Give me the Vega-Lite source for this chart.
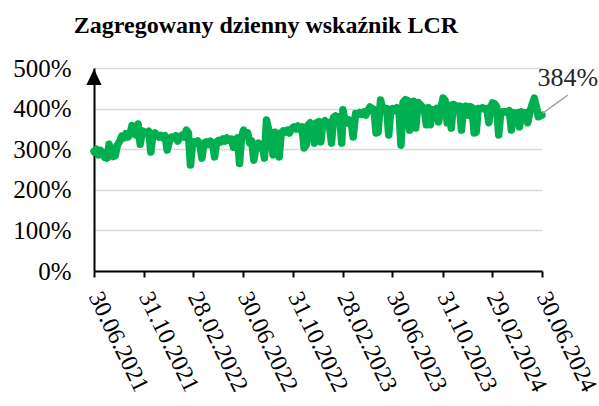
{
  "$schema": "https://vega.github.io/schema/vega-lite/v6.json",
  "width": 448,
  "height": 203,
  "autosize": {"type": "none"},
  "padding": {"left": 94, "top": 68, "right": 57, "bottom": 135},
  "background": "white",
  "config": {
    "font": "Liberation Serif",
    "view": {"stroke": null},
    "style": {"guide-label": {"font": "Liberation Serif"}, "guide-title": {"font": "Liberation Serif"}}
  },
  "title": {
    "text": "Zagregowany dzienny wskaźnik LCR",
    "font": "Liberation Serif",
    "fontSize": 24,
    "fontWeight": "bold",
    "color": "black",
    "anchor": "middle",
    "dx": -52,
    "baseline": "alphabetic",
    "offset": -1
  },
  "datasets": {
    "lcr": [
      {"d":"2021-06-30","v":2.95},
      {"d":"2021-07-01","v":2.93},{"d":"2021-07-06","v":3.00},{"d":"2021-07-11","v":2.86},{"d":"2021-07-16","v":2.97},{"d":"2021-07-21","v":2.90},{"d":"2021-07-26","v":2.80},
      {"d":"2021-08-01","v":2.78},{"d":"2021-08-06","v":3.12},{"d":"2021-08-11","v":2.95},{"d":"2021-08-16","v":2.82},{"d":"2021-08-21","v":2.84},{"d":"2021-08-26","v":3.10},
      {"d":"2021-09-01","v":3.20},{"d":"2021-09-06","v":3.32},{"d":"2021-09-11","v":3.28},{"d":"2021-09-16","v":3.38},{"d":"2021-09-21","v":3.30},{"d":"2021-09-26","v":3.36},
      {"d":"2021-10-01","v":3.58},{"d":"2021-10-06","v":3.40},{"d":"2021-10-11","v":3.35},{"d":"2021-10-16","v":3.62},{"d":"2021-10-21","v":3.12},{"d":"2021-10-26","v":3.45},
      {"d":"2021-11-01","v":3.42},{"d":"2021-11-06","v":3.38},{"d":"2021-11-11","v":3.44},{"d":"2021-11-16","v":2.93},{"d":"2021-11-21","v":3.36},{"d":"2021-11-26","v":3.40},
      {"d":"2021-12-01","v":3.35},{"d":"2021-12-06","v":3.30},{"d":"2021-12-11","v":3.34},{"d":"2021-12-16","v":3.28},{"d":"2021-12-21","v":3.33},{"d":"2021-12-26","v":2.98},
      {"d":"2022-01-01","v":3.22},{"d":"2022-01-06","v":3.30},{"d":"2022-01-11","v":3.28},{"d":"2022-01-16","v":3.33},{"d":"2022-01-21","v":3.20},{"d":"2022-01-26","v":3.30},
      {"d":"2022-02-01","v":3.35},{"d":"2022-02-06","v":3.30},{"d":"2022-02-11","v":3.47},{"d":"2022-02-16","v":3.40},{"d":"2022-02-21","v":2.61},{"d":"2022-02-26","v":3.15},
      {"d":"2022-03-01","v":3.18},{"d":"2022-03-06","v":3.15},{"d":"2022-03-11","v":3.20},{"d":"2022-03-16","v":3.12},{"d":"2022-03-21","v":2.78},{"d":"2022-03-26","v":3.15},
      {"d":"2022-04-01","v":3.18},{"d":"2022-04-06","v":3.12},{"d":"2022-04-11","v":3.20},{"d":"2022-04-16","v":3.15},{"d":"2022-04-21","v":2.81},{"d":"2022-04-26","v":3.18},
      {"d":"2022-05-01","v":3.22},{"d":"2022-05-06","v":3.18},{"d":"2022-05-11","v":3.25},{"d":"2022-05-16","v":3.20},{"d":"2022-05-21","v":3.28},{"d":"2022-05-26","v":3.22},
      {"d":"2022-06-01","v":3.25},{"d":"2022-06-06","v":3.05},{"d":"2022-06-11","v":3.10},{"d":"2022-06-16","v":3.28},{"d":"2022-06-21","v":2.65},{"d":"2022-06-26","v":3.30},
      {"d":"2022-07-01","v":3.47},{"d":"2022-07-06","v":3.35},{"d":"2022-07-11","v":3.40},{"d":"2022-07-16","v":3.15},{"d":"2022-07-21","v":3.20},{"d":"2022-07-26","v":2.73},
      {"d":"2022-08-01","v":3.10},{"d":"2022-08-06","v":3.15},{"d":"2022-08-11","v":3.03},{"d":"2022-08-16","v":3.12},{"d":"2022-08-21","v":2.78},{"d":"2022-08-26","v":3.72},
      {"d":"2022-09-01","v":3.45},{"d":"2022-09-06","v":3.30},{"d":"2022-09-11","v":2.86},{"d":"2022-09-16","v":3.42},{"d":"2022-09-21","v":3.38},{"d":"2022-09-26","v":2.81},
      {"d":"2022-10-01","v":3.40},{"d":"2022-10-06","v":3.45},{"d":"2022-10-11","v":3.42},{"d":"2022-10-16","v":3.47},{"d":"2022-10-21","v":3.40},{"d":"2022-10-26","v":3.50},
      {"d":"2022-11-01","v":3.55},{"d":"2022-11-06","v":3.50},{"d":"2022-11-11","v":3.57},{"d":"2022-11-16","v":3.48},{"d":"2022-11-21","v":3.55},{"d":"2022-11-26","v":3.03},
      {"d":"2022-12-01","v":3.10},{"d":"2022-12-06","v":3.60},{"d":"2022-12-11","v":3.65},{"d":"2022-12-16","v":3.58},{"d":"2022-12-21","v":3.15},{"d":"2022-12-26","v":3.65},
      {"d":"2023-01-01","v":3.68},{"d":"2023-01-06","v":3.18},{"d":"2023-01-11","v":3.65},{"d":"2023-01-16","v":3.70},{"d":"2023-01-21","v":3.62},{"d":"2023-01-26","v":3.66},
      {"d":"2023-02-01","v":3.15},{"d":"2023-02-06","v":3.78},{"d":"2023-02-11","v":3.82},{"d":"2023-02-16","v":3.75},{"d":"2023-02-21","v":3.80},{"d":"2023-02-26","v":3.15},
      {"d":"2023-03-01","v":3.97},{"d":"2023-03-06","v":3.70},{"d":"2023-03-11","v":3.65},{"d":"2023-03-16","v":3.72},{"d":"2023-03-21","v":3.68},{"d":"2023-03-26","v":3.30},
      {"d":"2023-04-01","v":3.88},{"d":"2023-04-06","v":3.85},{"d":"2023-04-11","v":3.90},{"d":"2023-04-16","v":3.86},{"d":"2023-04-21","v":3.92},{"d":"2023-04-26","v":3.84},
      {"d":"2023-05-01","v":3.95},{"d":"2023-05-06","v":4.04},{"d":"2023-05-11","v":4.00},{"d":"2023-05-16","v":3.98},{"d":"2023-05-21","v":3.40},{"d":"2023-05-26","v":3.42},
      {"d":"2023-06-01","v":4.21},{"d":"2023-06-06","v":4.02},{"d":"2023-06-11","v":3.98},{"d":"2023-06-16","v":4.00},{"d":"2023-06-21","v":3.35},{"d":"2023-06-26","v":3.98},
      {"d":"2023-07-01","v":4.00},{"d":"2023-07-06","v":3.95},{"d":"2023-07-11","v":4.02},{"d":"2023-07-16","v":3.98},{"d":"2023-07-21","v":3.10},{"d":"2023-07-26","v":4.15},
      {"d":"2023-08-01","v":4.22},{"d":"2023-08-06","v":4.20},{"d":"2023-08-11","v":3.47},{"d":"2023-08-16","v":4.16},{"d":"2023-08-21","v":4.18},{"d":"2023-08-26","v":3.52},
      {"d":"2023-09-01","v":4.15},{"d":"2023-09-06","v":4.10},{"d":"2023-09-11","v":4.05},{"d":"2023-09-16","v":4.00},{"d":"2023-09-21","v":3.60},{"d":"2023-09-26","v":4.02},
      {"d":"2023-10-01","v":3.60},{"d":"2023-10-06","v":3.97},{"d":"2023-10-11","v":3.95},{"d":"2023-10-16","v":4.00},{"d":"2023-10-21","v":3.67},{"d":"2023-10-26","v":3.97},
      {"d":"2023-11-01","v":4.26},{"d":"2023-11-06","v":4.20},{"d":"2023-11-11","v":3.65},{"d":"2023-11-16","v":4.08},{"d":"2023-11-21","v":3.52},{"d":"2023-11-26","v":4.10},
      {"d":"2023-12-01","v":4.08},{"d":"2023-12-06","v":4.05},{"d":"2023-12-11","v":4.06},{"d":"2023-12-16","v":3.47},{"d":"2023-12-21","v":4.04},{"d":"2023-12-26","v":4.06},
      {"d":"2024-01-01","v":3.84},{"d":"2024-01-06","v":4.05},{"d":"2024-01-11","v":4.02},{"d":"2024-01-16","v":3.40},{"d":"2024-01-21","v":3.42},{"d":"2024-01-26","v":4.00},
      {"d":"2024-02-01","v":4.00},{"d":"2024-02-06","v":4.02},{"d":"2024-02-11","v":3.98},{"d":"2024-02-16","v":4.00},{"d":"2024-02-21","v":3.65},{"d":"2024-02-26","v":4.05},
      {"d":"2024-03-01","v":4.14},{"d":"2024-03-06","v":4.12},{"d":"2024-03-11","v":4.05},{"d":"2024-03-16","v":3.35},{"d":"2024-03-21","v":3.90},{"d":"2024-03-26","v":3.92},
      {"d":"2024-04-01","v":3.92},{"d":"2024-04-06","v":3.90},{"d":"2024-04-11","v":3.95},{"d":"2024-04-16","v":3.47},{"d":"2024-04-21","v":3.90},{"d":"2024-04-26","v":3.88},
      {"d":"2024-05-01","v":3.90},{"d":"2024-05-06","v":3.55},{"d":"2024-05-11","v":3.92},{"d":"2024-05-16","v":3.88},{"d":"2024-05-21","v":3.90},{"d":"2024-05-26","v":3.65},
      {"d":"2024-06-01","v":3.95},{"d":"2024-06-06","v":4.10},{"d":"2024-06-11","v":4.26},{"d":"2024-06-16","v":4.05},{"d":"2024-06-21","v":3.80},{"d":"2024-06-30","v":3.84}
    ],
    "leader": [{"d":"2024-07-02","v":3.89,"d2":"2024-09-01","v2":4.33}],
    "label": [{"d":"2024-09-01","v":4.56,"t":"384%"}],
    "arrow": [{"d":"2021-06-30","v":4.78}]
  },
  "layer": [
    {
      "data": {"name": "lcr"},
      "mark": {"type": "line", "color": "#00b050", "strokeWidth": 7.5, "strokeCap": "round", "strokeJoin": "round"},
      "encoding": {
        "x": {
          "field": "d", "type": "temporal",
          "scale": {"type": "utc", "domain": [{"year":2021,"month":6,"date":30,"utc":true},{"year":2024,"month":6,"date":30,"utc":true}]},
          "axis": {
            "title": null,
            "values": [
              {"year":2021,"month":6,"date":30,"utc":true},
              {"year":2021,"month":10,"date":31,"utc":true},
              {"year":2022,"month":2,"date":28,"utc":true},
              {"year":2022,"month":6,"date":30,"utc":true},
              {"year":2022,"month":10,"date":31,"utc":true},
              {"year":2023,"month":2,"date":28,"utc":true},
              {"year":2023,"month":6,"date":30,"utc":true},
              {"year":2023,"month":10,"date":31,"utc":true},
              {"year":2024,"month":2,"date":29,"utc":true},
              {"year":2024,"month":6,"date":30,"utc":true}
            ],
            "format": "%d.%m.%Y",
            "labelFont": "Liberation Serif",
            "labelColor": "black",
            "labelAngle": 64,
            "labelAlign": "left",
            "labelBaseline": "middle",
            "labelFontSize": 24,
            "labelPadding": 16,
            "labelOverlap": false,
            "labelBound": false,
            "labelFlush": false,
            "grid": false,
            "domainColor": "black",
            "domainWidth": 2,
            "tickColor": "black",
            "tickWidth": 2,
            "tickSize": 6
          }
        },
        "y": {
          "field": "v", "type": "quantitative",
          "scale": {"domain": [0, 5], "nice": false, "zero": true},
          "axis": {
            "title": null,
            "values": [0, 1, 2, 3, 4, 5],
            "format": ".0%",
            "labelFont": "Liberation Serif",
            "labelColor": "black",
            "labelFontSize": 25,
            "labelPadding": 23,
            "ticks": false,
            "tickSize": 0,
            "grid": true,
            "gridColor": "#d9d9d9",
            "gridWidth": 1.5,
            "domainColor": "black",
            "domainWidth": 2,
            "labelBound": false,
            "labelFlush": false
          }
        }
      }
    },
    {
      "data": {"name": "leader"},
      "mark": {"type": "rule", "color": "#a6a6a6", "strokeWidth": 1.5},
      "encoding": {
        "x": {"field": "d", "type": "temporal", "scale": {"type": "utc", "domain": [{"year":2021,"month":6,"date":30,"utc":true},{"year":2024,"month":6,"date":30,"utc":true}]}},
        "x2": {"field": "d2"},
        "y": {"field": "v", "type": "quantitative", "scale": {"domain": [0, 5], "nice": false}},
        "y2": {"field": "v2"}
      }
    },
    {
      "data": {"name": "label"},
      "mark": {"type": "text", "font": "Liberation Serif", "fontSize": 26, "color": "#262626", "align": "center", "baseline": "alphabetic"},
      "encoding": {
        "x": {"field": "d", "type": "temporal", "scale": {"type": "utc", "domain": [{"year":2021,"month":6,"date":30,"utc":true},{"year":2024,"month":6,"date":30,"utc":true}]}},
        "y": {"field": "v", "type": "quantitative", "scale": {"domain": [0, 5], "nice": false}},
        "text": {"field": "t"}
      }
    },
    {
      "data": {"name": "arrow"},
      "mark": {"type": "point", "shape": "M0,-1L0.95,1L-0.95,1Z", "filled": true, "color": "black", "opacity": 1, "size": 256},
      "encoding": {
        "x": {"field": "d", "type": "temporal", "scale": {"type": "utc", "domain": [{"year":2021,"month":6,"date":30,"utc":true},{"year":2024,"month":6,"date":30,"utc":true}]}},
        "y": {"field": "v", "type": "quantitative", "scale": {"domain": [0, 5], "nice": false}}
      }
    }
  ]
}
